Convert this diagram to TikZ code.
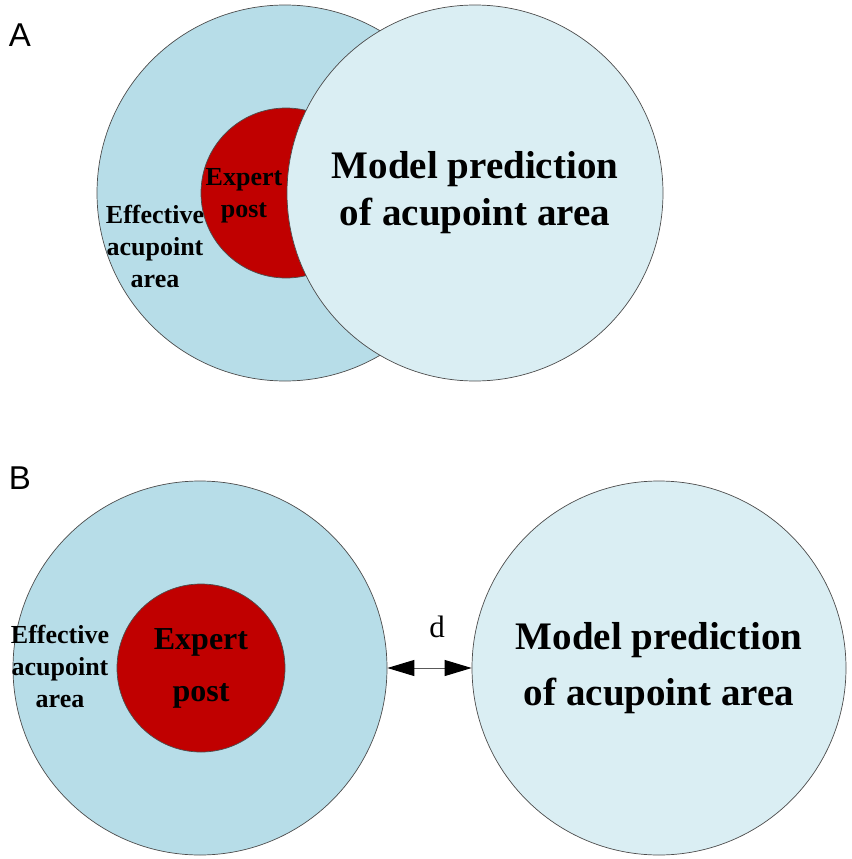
\documentclass[tikz,border=0pt]{standalone}
\usepackage{fontspec}
\setmainfont{Liberation Serif}
\newfontfamily\panelfont{Liberation Sans}
\usetikzlibrary{arrows.meta}
\definecolor{areablue}{HTML}{B7DDE8}
\definecolor{modelblue}{HTML}{DAEEF3}
\definecolor{expertred}{HTML}{C00000}

\begin{document}
\begin{tikzpicture}[x=1pt,y=-1pt,
  zone/.style={circle,draw=black!70,line width=0.7pt,inner sep=0pt},
  effzone/.style={zone,fill=areablue},
  expzone/.style={zone,fill=expertred},
  modzone/.style={zone,fill=modelblue,align=center},
  panel/.style={font={\panelfont\fontsize{33}{40}\selectfont}},
  smalltxt/.style={align=center,inner sep=0pt,font={\bfseries\fontsize{26}{32}\selectfont}}]
  \useasboundingbox (0,0) rectangle (851,859);
  % A: overlapping areas
  \node[panel] (labA) at (20,35) {A};
  \node[effzone,minimum size=376pt] (effA) at (285,193) {};
  \node[expzone,minimum size=170pt] (expA) at (286,193) {};
  \node[modzone,minimum size=376pt,font={\bfseries\fontsize{39}{47}\selectfont}] (modA) at (475,193) {Model prediction\\of acupoint area};
  \node[smalltxt] (expAtxt) at (244,196) {Expert\\post};
  \node[smalltxt] (effAtxt) at (155,246) {Effective\\acupoint\\area};
  % B: separated areas
  \node[panel] (labB) at (20,478) {B};
  \node[effzone,minimum size=374pt] (effB) at (200,668) {};
  \node[expzone,minimum size=168pt,align=center,font={\bfseries\fontsize{32}{52}\selectfont}] (expB) at (201,668) {Expert\\post};
  \node[modzone,minimum size=374pt,font={\bfseries\fontsize{39}{56}\selectfont}] (modB) at (659,668) {Model prediction\\of acupoint area};
  \node[smalltxt] (effBtxt) at (60,666) {Effective\\acupoint\\area};
  \draw[{Triangle[length=27pt,width=16pt,color=black]}-{Triangle[length=27pt,width=16pt,color=black]},draw=black!65,line width=1pt] (effB.east) -- (modB.west);
  \node[font={\fontsize{31}{36}\selectfont}] (dist) at (437,627) {d};
\end{tikzpicture}
\end{document}
